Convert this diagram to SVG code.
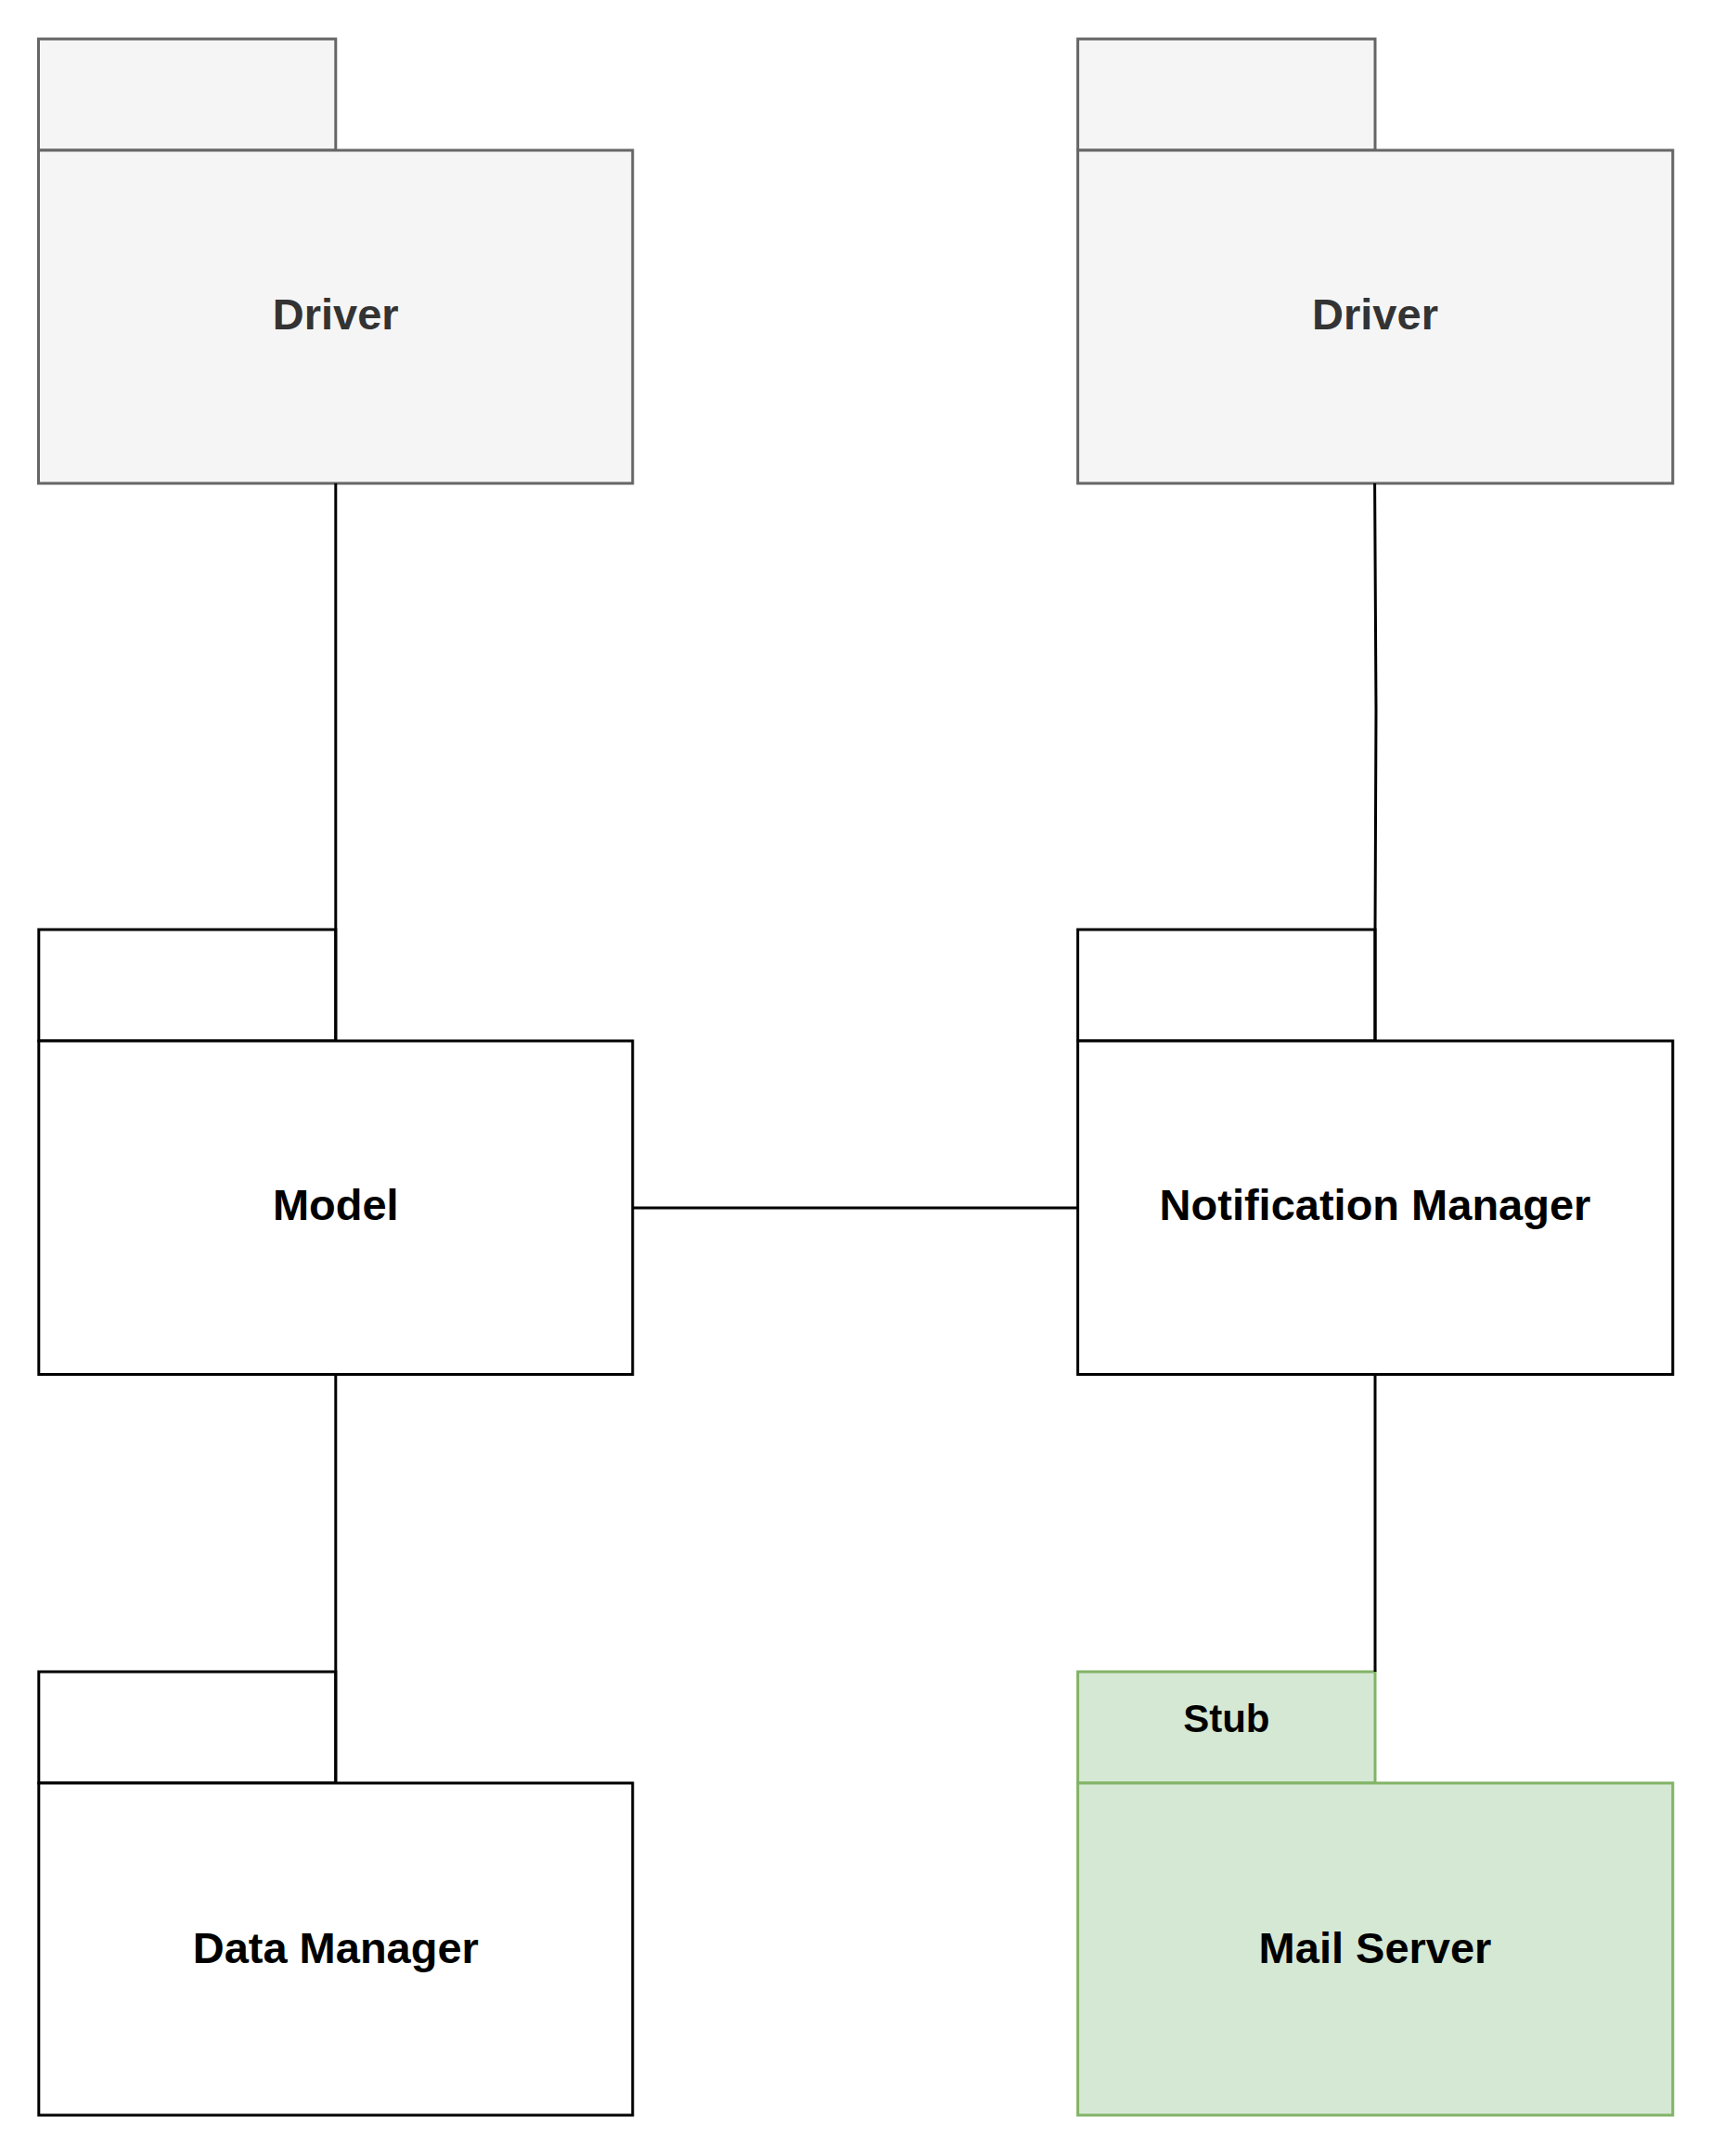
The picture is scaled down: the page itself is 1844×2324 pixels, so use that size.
<svg xmlns="http://www.w3.org/2000/svg" width="1844" height="2324" viewBox="0 0 1844 2324">
<style>
.plain{fill:#ffffff;stroke:#000000;stroke-width:3}
.grey{fill:#f5f5f5;stroke:#666666;stroke-width:3}
.green{fill:#d5e8d4;stroke:#82b366;stroke-width:3}
.lbl{font-family:"Liberation Sans",Arial,sans-serif;font-weight:bold;font-size:47px;text-anchor:middle;fill:#000000}
.lblg{fill:#333333}
.stub{font-size:42px}
.conn{fill:none;stroke:#000000;stroke-width:3}
</style>
<rect width="1844" height="2324" fill="#ffffff"/>
<g id="driver-left">
<rect class="grey" x="41.5" y="42" width="320.3" height="120"/>
<rect class="grey" x="41.5" y="162" width="640.3" height="359"/>
<text class="lbl lblg" x="361.7" y="355">Driver</text>
</g>
<g id="driver-right">
<rect class="grey" x="1161.6" y="42" width="320.4" height="120"/>
<rect class="grey" x="1161.6" y="162" width="641.2" height="359"/>
<text class="lbl lblg" x="1482" y="355">Driver</text>
</g>
<g id="model">
<rect class="plain" x="41.8" y="1002" width="320" height="120"/>
<rect class="plain" x="41.8" y="1122" width="640" height="359.5"/>
<text class="lbl" x="361.8" y="1315">Model</text>
</g>
<g id="notification-manager">
<rect class="plain" x="1161.6" y="1002" width="320.4" height="120"/>
<rect class="plain" x="1161.6" y="1122" width="641.2" height="359.5"/>
<text class="lbl" x="1482" y="1315">Notification Manager</text>
</g>
<g id="data-manager">
<rect class="plain" x="41.8" y="1802" width="320" height="120"/>
<rect class="plain" x="41.8" y="1922" width="640" height="358"/>
<text class="lbl" x="361.8" y="2116">Data Manager</text>
</g>
<g id="mail-server">
<rect class="green" x="1161.6" y="1802" width="320.4" height="120"/>
<rect class="green" x="1161.6" y="1922" width="641.2" height="358"/>
<text class="lbl stub" x="1321.8" y="1867">Stub</text>
<text class="lbl" x="1482" y="2116">Mail Server</text>
</g>
<g id="connectors">
<line class="conn" x1="361.8" y1="521" x2="361.8" y2="1122"/>
<polyline class="conn" points="1481.6,521 1483,765 1482,1002 1482,1122"/>
<line class="conn" x1="681.8" y1="1302" x2="1161.6" y2="1302"/>
<line class="conn" x1="361.8" y1="1481.5" x2="361.8" y2="1922"/>
<line class="conn" x1="1482" y1="1481.5" x2="1482" y2="1802"/>
</g>
</svg>
